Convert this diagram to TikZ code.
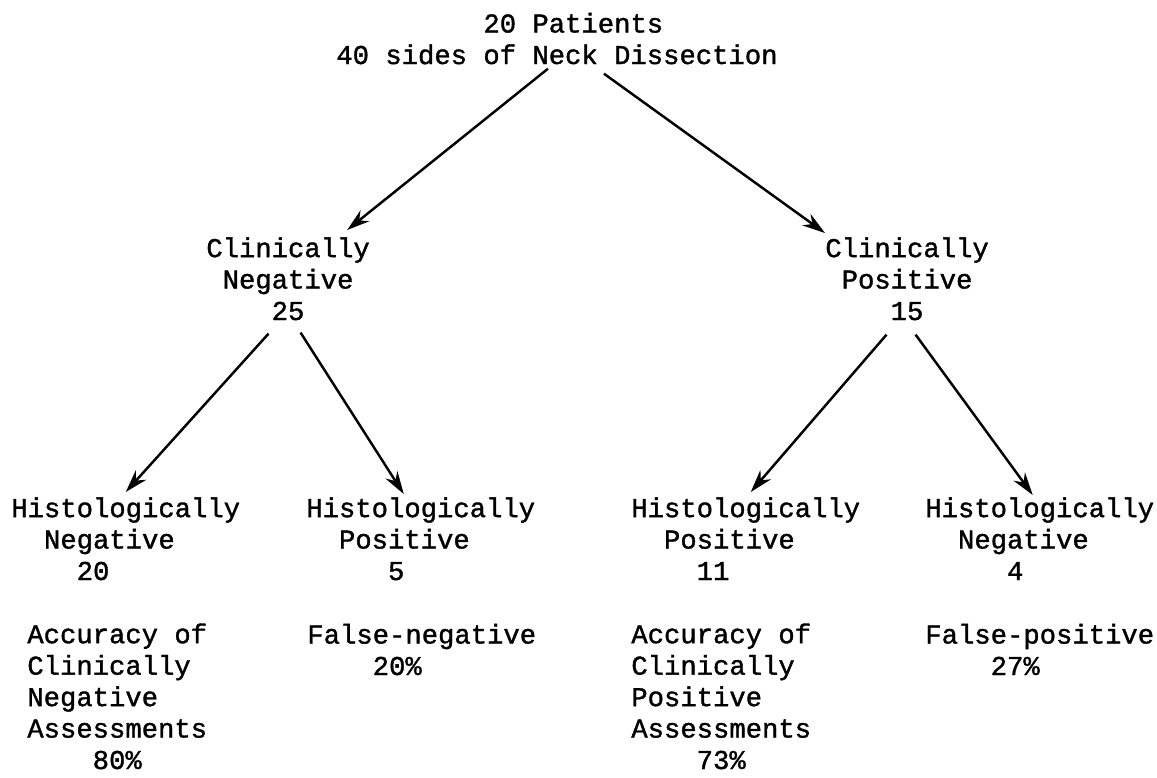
\documentclass[tikz,border=0pt]{standalone}
\usepackage{fontspec}
\setmainfont{Liberation Mono}[FakeBold=1.3]
\usetikzlibrary{arrows.meta}

\begin{document}
\begin{tikzpicture}[x=0.02cm, y=-0.02cm,
  textnode/.style={anchor=base west, align=left, inner sep=0pt, font=\fontsize{15.5}{17.9}\selectfont},
  arrow/.style={line width=1.4pt, -{Stealth[length=13pt, width=8pt]}}]
\useasboundingbox (0,0) rectangle (1157,778);
% base = baseline of the last line
\node[textnode] at (336, 64) (top) {\hphantom{000000000}20 Patients\\40 sides of Neck Dissection};
\node[textnode] at (206, 320) (cn) {Clinically\\\hphantom{0}Negative\\\hphantom{0000}25};
\node[textnode] at (825, 320) (cp) {Clinically\\\hphantom{0}Positive\\\hphantom{0000}15};
\node[textnode] at (11, 580) (hn1) {Histologically\\\hphantom{00}Negative\\\hphantom{0000}20};
\node[textnode] at (306, 580) (hp1) {Histologically\\\hphantom{00}Positive\\\hphantom{00000}5};
\node[textnode] at (631, 580) (hp2) {Histologically\\\hphantom{00}Positive\\\hphantom{0000}11};
\node[textnode] at (925, 580) (hn2) {Histologically\\\hphantom{00}Negative\\\hphantom{00000}4};
\node[textnode] at (27, 769) (acc1) {Accuracy of\\Clinically\\Negative\\Assessments\\\hphantom{0000}80\%};
\node[textnode] at (307, 675) (fneg) {False-negative\\\hphantom{0000}20\%};
\node[textnode] at (631, 769) (acc2) {Accuracy of\\Clinically\\Positive\\Assessments\\\hphantom{0000}73\%};
\node[textnode] at (925, 675) (fpos) {False-positive\\\hphantom{0000}27\%};
\draw[arrow] ([xshift=-0.18cm, yshift=-0.08cm]top.south) -- ([xshift=-0.46cm, yshift=0.14cm]cn.north east);
\draw[arrow] ([xshift=0.94cm, yshift=-0.18cm]top.south) -- ([yshift=0.08cm]cp.north west);
\draw[arrow] ([xshift=-0.39cm, yshift=-0.26cm]cn.south) -- ([yshift=0.1cm]hn1.north);
\draw[arrow] ([xshift=0.25cm, yshift=-0.24cm]cn.south) -- ([xshift=-0.34cm, yshift=0.06cm]hp1.north);
\draw[arrow] ([xshift=-0.41cm, yshift=-0.28cm]cp.south) -- ([xshift=0.1cm, yshift=0.1cm]hp2.north);
\draw[arrow] ([xshift=0.17cm, yshift=-0.28cm]cp.south) -- ([xshift=-0.14cm, yshift=0.04cm]hn2.north);
\end{tikzpicture}
\end{document}
